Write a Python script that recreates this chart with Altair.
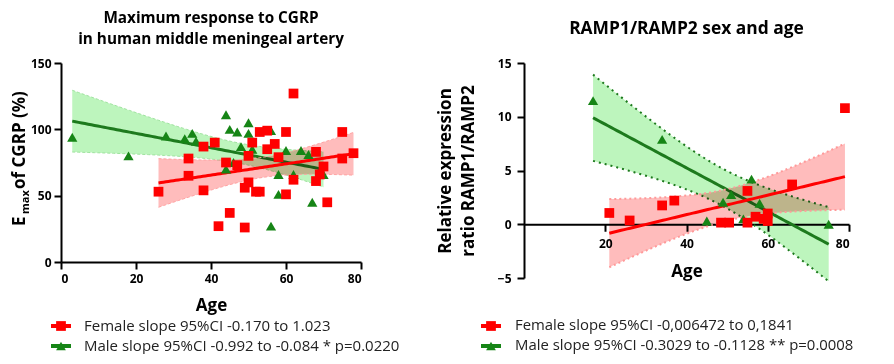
import altair as alt
import numpy as np
import pandas as pd

# ---------------- data ----------------
# Left panel: Emax of CGRP (%) vs age
L_F_AGE = [26, 34, 34, 38, 38, 41, 42, 44, 45, 47, 49, 49, 50, 50, 51, 52, 53, 53, 55, 55,
           57, 58, 60, 60, 62, 62, 68, 68, 69, 70, 71, 75, 75, 78]
L_F_VAL = [53, 78, 65, 87, 54, 90, 27, 75, 37, 73, 56, 26, 80, 60, 90, 53, 53, 98, 99, 85,
           89, 79, 98, 51, 127, 62, 83, 61, 66, 72, 45, 98, 78, 82]
L_M_AGE = [3, 18, 28, 33, 35, 36, 44, 45, 47, 50, 50, 48, 51, 56, 60, 64, 66, 44, 46, 58,
           62, 70, 58, 67, 56]
L_M_VAL = [94, 80, 95, 93, 97, 91, 111, 100, 98, 105, 97, 87, 85, 99, 84, 84, 81, 70, 75, 66,
           66, 66, 51, 45, 27]

# Right panel: RAMP1/RAMP2 ratio vs age
R_F_AGE = [21, 26, 34, 37, 48.5, 50.5, 55, 55, 57, 59, 60, 60, 66, 79]
R_F_VAL = [1.05, 0.35, 1.75, 2.2, 0.15, 0.15, 0.15, 3.1, 0.7, 0.5, 1.0, 0.3, 3.7, 10.8]
R_M_AGE = [17, 34, 45, 49, 51, 54, 56, 58, 75]
R_M_VAL = [11.5, 7.9, 0.3, 2.05, 2.75, 0.5, 4.2, 1.95, 0.0]

L_TITLE = ["Maximum response to CGRP", "in human middle meningeal artery"]
R_TITLE = "RAMP1/RAMP2 sex and age"
R_YTITLE = ["Relative expression", "ratio RAMP1/RAMP2"]
X_TITLE = "Age"
L_LEGEND = ["Female slope 95%CI -0.170 to 1.023",
            "Male slope 95%CI -0.992 to -0.084 * p=0.0220"]
R_LEGEND = ["Female slope 95%CI -0,006472 to 0,1841",
            "Male slope 95%CI -0.3029 to -0.1128 ** p=0.0008"]

# ---------------- styling ----------------
FONT = "Open Sans"
RED = "#ff0000"
GREEN = "#168516"
LINE_GREEN = "#1d7a1d"
BAND_GREEN = "#bdf5bd"
BAND_RED = "#ffbcbc"


def t975(df):
    z = 1.959964
    return (z + (z**3 + z) / (4 * df) + (5 * z**5 + 16 * z**3 + 3 * z) / (96 * df**2)
            + (3 * z**7 + 19 * z**5 + 17 * z**3 - 15 * z) / (384 * df**3))


def fit_table(ages, vals, n_grid=80):
    x = np.asarray(ages, float)
    y = np.asarray(vals, float)
    n = len(x)
    xb = x.mean()
    sxx = ((x - xb) ** 2).sum()
    b = ((x - xb) * (y - y.mean())).sum() / sxx
    a = y.mean() - b * xb
    s = np.sqrt(((y - (a + b * x)) ** 2).sum() / (n - 2))
    g = np.linspace(x.min(), x.max(), n_grid)
    yh = a + b * g
    h = t975(n - 2) * s * np.sqrt(1.0 / n + (g - xb) ** 2 / sxx)
    return pd.DataFrame({"age": g, "fit": yh, "lo": yh - h, "hi": yh + h})


def panel(f_age, f_val, m_age, m_val, xenc, yfield_enc, edge):
    fF = fit_table(f_age, f_val)
    fM = fit_table(m_age, m_val)
    layers = []
    for df, fill, line_col, ecol, edash, ewidth in [
        (fM, BAND_GREEN, LINE_GREEN, edge["m_col"], edge["m_dash"], edge["m_w"]),
        (fF, BAND_RED, RED, edge["f_col"], edge["f_dash"], edge["f_w"]),
    ]:
        base = alt.Chart(df)
        layers.append(base.mark_area(color=fill, opacity=1, blend="multiply").encode(
            x=xenc("age"), y=yfield_enc("lo"), y2="hi:Q"))
        layers.append(base.mark_line(color=ecol, strokeDash=edash, strokeWidth=ewidth).encode(
            x=xenc("age"), y=yfield_enc("lo")))
        layers.append(base.mark_line(color=ecol, strokeDash=edash, strokeWidth=ewidth).encode(
            x=xenc("age"), y=yfield_enc("hi")))
        layers.append(base.mark_line(color=line_col, strokeWidth=3).encode(
            x=xenc("age"), y=yfield_enc("fit")))
    pm = pd.DataFrame({"age": m_age, "val": m_val})
    pf = pd.DataFrame({"age": f_age, "val": f_val})
    layers.append(alt.Chart(pm).mark_point(shape="triangle-up", filled=True, size=105,
                                           color=GREEN, opacity=1).encode(
        x=xenc("age"), y=yfield_enc("val")))
    layers.append(alt.Chart(pf).mark_point(shape="square", filled=True, size=95,
                                           color=RED, opacity=1).encode(
        x=xenc("age"), y=yfield_enc("val")))
    return layers


def legend(labels, lx, tx, y0, dy, fsize):
    out = []
    for i, (lab, col, shp) in enumerate(zip(labels, [RED, GREEN], ["square", "triangle-up"])):
        d = alt.Chart(pd.DataFrame({"label": [lab]}))
        yy = y0 + i * dy
        out.append(d.mark_rule(color=col, strokeWidth=4).encode(
            x=alt.value(lx - 10), x2=alt.value(lx + 10), y=alt.value(yy)))
        out.append(d.mark_point(shape=shp, filled=True, size=95, color=col, opacity=1).encode(
            x=alt.value(lx), y=alt.value(yy)))
        out.append(d.mark_text(align="left", baseline="middle", font=FONT, fontSize=fsize,
                               color="#222222").encode(
            x=alt.value(tx), y=alt.value(yy), text="label:N"))
    return out


# ---------------- left panel ----------------
def lx(field):
    return alt.X(f"{field}:Q", scale=alt.Scale(domain=[0, 80], nice=False),
                 axis=alt.Axis(values=[0, 20, 40, 60, 80], title=X_TITLE, titlePadding=13,
                               labelPadding=4))


def ly(field):
    return alt.Y(f"{field}:Q", scale=alt.Scale(domain=[0, 150], nice=False),
                 axis=alt.Axis(values=[0, 50, 100, 150], title=None, labelPadding=3))


left_layers = panel(L_F_AGE, L_F_VAL, L_M_AGE, L_M_VAL, lx, ly,
                    {"m_col": "#9fe39f", "m_dash": [3, 2], "m_w": 1,
                     "f_col": "#ffa3a3", "f_dash": [3, 2], "f_w": 1})

# y-axis title with a subscript: E_max of CGRP (%)
left_layers.append(alt.Chart(pd.DataFrame({"t": ["E"]})).mark_text(
    angle=270, align="left", baseline="alphabetic", font=FONT, fontSize=17,
    fontWeight="bold", color="black").encode(x=alt.value(-36), y=alt.value(163), text="t:N"))
left_layers.append(alt.Chart(pd.DataFrame({"t": ["max"]})).mark_text(
    angle=270, align="left", baseline="alphabetic", font=FONT, fontSize=11,
    fontWeight="bold", color="black").encode(x=alt.value(-32), y=alt.value(151), text="t:N"))
left_layers.append(alt.Chart(pd.DataFrame({"t": ["of CGRP (%)"]})).mark_text(
    angle=270, align="left", baseline="alphabetic", font=FONT, fontSize=17,
    fontWeight="bold", color="black").encode(x=alt.value(-36), y=alt.value(126), text="t:N"))

left_layers += legend(L_LEGEND, 0, 23, 263, 20, 15)

left = alt.layer(*left_layers).properties(
    width=300, height=199,
    title=alt.TitleParams(L_TITLE, fontSize=15.3, lineHeight=21, offset=10, anchor="middle"))

# ---------------- right panel ----------------
R_H = 215


def rx(field):
    return alt.X(f"{field}:Q", scale=alt.Scale(domain=[0, 80], nice=False),
                 axis=alt.Axis(values=[20, 40, 60, 80], title=X_TITLE,
                               offset=-(R_H * 5 / 20), titlePadding=14, labelPadding=7))


def ry(field):
    return alt.Y(f"{field}:Q", scale=alt.Scale(domain=[-5, 15], nice=False),
                 axis=alt.Axis(values=[-5, 0, 5, 10, 15], title=R_YTITLE,
                               titleLineHeight=23, titlePadding=20, labelPadding=6))


right_layers = panel(R_F_AGE, R_F_VAL, R_M_AGE, R_M_VAL, rx, ry,
                     {"m_col": "#1d7a1d", "m_dash": [2, 4], "m_w": 2,
                      "f_col": "#ff9a9a", "f_dash": [2, 3], "f_w": 2})
right_layers += legend(R_LEGEND, -33, -9, 263, 20, 14.9)

right = alt.layer(*right_layers).properties(
    width=325, height=R_H,
    title=alt.TitleParams(R_TITLE, fontSize=17.4, offset=20, anchor="middle"))

chart = alt.concat(left, right, columns=2, align="each", spacing=163, bounds="flush",
                   padding={"left": 2, "top": 2, "right": 0, "bottom": 0}).configure_view(
    stroke=None
).configure_axis(
    domainColor="black", domainWidth=2, tickColor="black", tickWidth=2, tickSize=7,
    labelFont=FONT, labelFontSize=12, labelFontWeight="bold", labelColor="black",
    titleFont=FONT, titleFontSize=17, titleFontWeight="bold", titleColor="black", grid=False
).configure_title(font=FONT, fontWeight="bold", color="black")

chart.save("out.html", embed_options={"renderer": "svg", "actions": False})
